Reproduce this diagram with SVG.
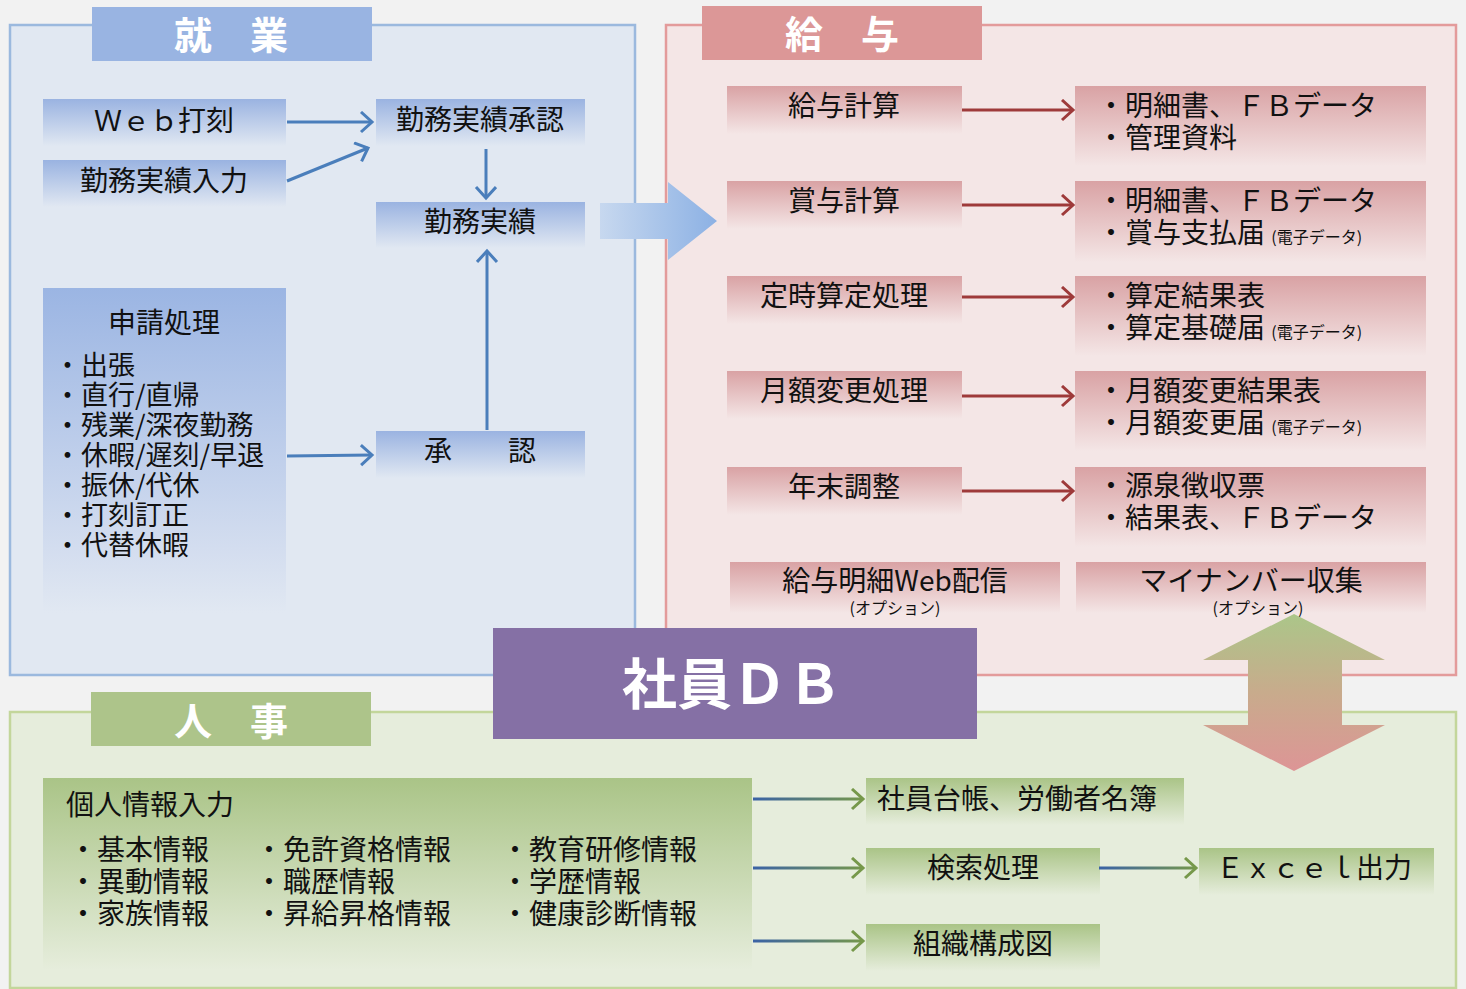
<svg xmlns="http://www.w3.org/2000/svg" width="1466" height="989" viewBox="0 0 1466 989">
<defs>
<style>
text{font-family:"Noto Sans CJK JP","Noto Sans",sans-serif;fill:#111}
.t{font-size:28px}
.l{font-size:27px}
.m{text-anchor:middle}
.tab{font-size:38px;font-weight:bold;fill:#fff;text-anchor:middle}
.s{font-size:16px}
.b{stroke:#4a7ebb;stroke-width:3;fill:none}
.r{stroke:#9e3a3a;stroke-width:3;fill:none}
</style>
<linearGradient id="gb" x1="0" y1="0" x2="0" y2="1"><stop offset="0" stop-color="#9ab3e1"/><stop offset="1" stop-color="#e1e8f2"/></linearGradient>
<linearGradient id="gb2" x1="0" y1="0" x2="0" y2="1"><stop offset="0" stop-color="#9bb5e3"/><stop offset="0.8" stop-color="#d3ddef"/><stop offset="1" stop-color="#e1e8f2"/></linearGradient>
<linearGradient id="gr" x1="0" y1="0" x2="0" y2="1"><stop offset="0" stop-color="#d9a2a4"/><stop offset="1" stop-color="#f4e6e6"/></linearGradient>
<linearGradient id="gg" x1="0" y1="0" x2="0" y2="1"><stop offset="0" stop-color="#aac487"/><stop offset="1" stop-color="#e6eddc"/></linearGradient>
<linearGradient id="gbig" x1="0" y1="0" x2="1" y2="0"><stop offset="0" stop-color="#c7d8ef"/><stop offset="1" stop-color="#8cb1e4"/></linearGradient>
<linearGradient id="gdbl" x1="0" y1="0" x2="0" y2="1"><stop offset="0" stop-color="#abc689"/><stop offset="0.5" stop-color="#c8ab8c"/><stop offset="1" stop-color="#dd9596"/></linearGradient>
<linearGradient id="gl1" gradientUnits="userSpaceOnUse" x1="752" y1="0" x2="864" y2="0"><stop offset="0" stop-color="#3a62a6"/><stop offset="1" stop-color="#76984a"/></linearGradient>
<linearGradient id="gl2" gradientUnits="userSpaceOnUse" x1="1099" y1="0" x2="1197" y2="0"><stop offset="0" stop-color="#3a62a6"/><stop offset="1" stop-color="#76984a"/></linearGradient>
<marker id="ab" markerUnits="userSpaceOnUse" markerWidth="20" markerHeight="24" refX="14" refY="11" orient="auto" viewBox="0 0 20 24"><path d="M3,1 L14,11 L3,21" fill="none" stroke="#4a7ebb" stroke-width="3"/></marker>
<marker id="ar" markerUnits="userSpaceOnUse" markerWidth="20" markerHeight="24" refX="14" refY="11" orient="auto" viewBox="0 0 20 24"><path d="M3,1 L14,11 L3,21" fill="none" stroke="#9e3a3a" stroke-width="3"/></marker>
<marker id="ag" markerUnits="userSpaceOnUse" markerWidth="20" markerHeight="24" refX="14" refY="11" orient="auto" viewBox="0 0 20 24"><path d="M3,1 L14,11 L3,21" fill="none" stroke="#76984a" stroke-width="3"/></marker>
</defs>
<rect width="1466" height="989" fill="#f2f2f2"/>

<g id="panel-shugyo">
<rect x="10" y="25" width="625" height="650" fill="#e1e8f2" stroke="#9bb9de" stroke-width="2.5"/>
<rect x="92" y="7" width="280" height="54" fill="#99b4e2"/>
<text class="tab" x="231" y="49">就　業</text>
</g>
<g id="panel-kyuyo">
<rect x="666" y="25" width="790" height="650" fill="#f4e6e6" stroke="#e39b9b" stroke-width="2.5"/>
<rect x="702" y="6" width="280" height="54" fill="#dc9797"/>
<text class="tab" x="842" y="48">給　与</text>
</g>
<g id="panel-jinji">
<rect x="10" y="712" width="1446" height="276" fill="#e6eddc" stroke="#c3d69b" stroke-width="2.5"/>
<rect x="91" y="692" width="280" height="54" fill="#adc48a"/>
<text class="tab" x="231" y="735">人　事</text>
</g>

<g id="web">
<rect x="43" y="99" width="243" height="47" fill="url(#gb)"/>
<text class="t m" x="164" y="131">Ｗｅｂ打刻</text>
</g>
<g id="kinmu-input">
<rect x="43" y="160" width="243" height="47" fill="url(#gb)"/>
<text class="t m" x="164" y="191">勤務実績入力</text>
</g>
<g id="kinmu-shonin">
<rect x="376" y="99" width="209" height="47" fill="url(#gb)"/>
<text class="t m" x="480" y="130">勤務実績承認</text>
</g>
<g id="kinmu">
<rect x="376" y="202" width="209" height="46" fill="url(#gb)"/>
<text class="t m" x="480" y="232">勤務実績</text>
</g>
<g id="shinsei">
<rect x="43" y="288" width="243" height="325" fill="url(#gb2)"/>
<text class="t m" x="164" y="333">申請処理</text>
<text class="l" x="54" y="375">・出張</text>
<text class="l" x="54" y="405">・直行/直帰</text>
<text class="l" x="54" y="435">・残業/深夜勤務</text>
<text class="l" x="54" y="465">・休暇/遅刻/早退</text>
<text class="l" x="54" y="495">・振休/代休</text>
<text class="l" x="54" y="525">・打刻訂正</text>
<text class="l" x="54" y="555">・代替休暇</text>
</g>
<g id="shonin">
<rect x="376" y="431" width="209" height="47" fill="url(#gb)"/>
<text class="t m" x="480" y="461">承　　認</text>
</g>

<g id="big-arrow">
<polygon points="600,203 668,203 668,182 717,221 668,260 668,239 600,239" fill="url(#gbig)"/>
</g>

<g id="kyuyo-keisan"><rect x="727" y="86" width="235" height="48" fill="url(#gr)"/><text class="t m" x="844" y="116">給与計算</text></g>
<g id="shoyo-keisan"><rect x="727" y="181" width="235" height="48" fill="url(#gr)"/><text class="t m" x="844" y="211">賞与計算</text></g>
<g id="teiji"><rect x="727" y="276" width="235" height="48" fill="url(#gr)"/><text class="t m" x="844" y="306">定時算定処理</text></g>
<g id="getsugaku"><rect x="727" y="371" width="235" height="48" fill="url(#gr)"/><text class="t m" x="844" y="401">月額変更処理</text></g>
<g id="nenmatsu"><rect x="727" y="467" width="235" height="48" fill="url(#gr)"/><text class="t m" x="844" y="497">年末調整</text></g>

<g id="out1"><rect x="1075" y="86" width="351" height="80" fill="url(#gr)"/>
<text class="t" x="1097" y="116">・明細書、ＦＢデータ</text><text class="t" x="1097" y="148">・管理資料</text></g>
<g id="out2"><rect x="1075" y="181" width="351" height="81" fill="url(#gr)"/>
<text class="t" x="1097" y="211">・明細書、ＦＢデータ</text><text class="t" x="1097" y="243">・賞与支払届 <tspan class="s">(電子データ)</tspan></text></g>
<g id="out3"><rect x="1075" y="276" width="351" height="80" fill="url(#gr)"/>
<text class="t" x="1097" y="306">・算定結果表</text><text class="t" x="1097" y="338">・算定基礎届 <tspan class="s">(電子データ)</tspan></text></g>
<g id="out4"><rect x="1075" y="371" width="351" height="80" fill="url(#gr)"/>
<text class="t" x="1097" y="401">・月額変更結果表</text><text class="t" x="1097" y="433">・月額変更届 <tspan class="s">(電子データ)</tspan></text></g>
<g id="out5"><rect x="1075" y="467" width="351" height="80" fill="url(#gr)"/>
<text class="t" x="1097" y="496">・源泉徴収票</text><text class="t" x="1097" y="528">・結果表、ＦＢデータ</text></g>

<g id="web-meisai"><rect x="730" y="562" width="330" height="51" fill="url(#gr)"/>
<text class="t m" x="895" y="591">給与明細Web配信</text><text class="s m" x="895" y="614">(オプション)</text></g>
<g id="mynumber"><rect x="1076" y="562" width="350" height="51" fill="url(#gr)"/>
<text class="t m" x="1251" y="591">マイナンバー収集</text><text class="s m" x="1258" y="614">(オプション)</text></g>

<g id="kojin">
<rect x="43" y="778" width="709" height="192" fill="url(#gg)"/>
<text class="t" x="66" y="815">個人情報入力</text>
<text class="t" x="69" y="860">・基本情報</text><text class="t" x="69" y="892">・異動情報</text><text class="t" x="69" y="924">・家族情報</text>
<text class="t" x="255" y="860">・免許資格情報</text><text class="t" x="255" y="892">・職歴情報</text><text class="t" x="255" y="924">・昇給昇格情報</text>
<text class="t" x="501" y="860">・教育研修情報</text><text class="t" x="501" y="892">・学歴情報</text><text class="t" x="501" y="924">・健康診断情報</text>
</g>
<g id="daicho"><rect x="866" y="778" width="318" height="47" fill="url(#gg)"/><text class="t" x="877" y="809">社員台帳、労働者名簿</text></g>
<g id="kensaku"><rect x="866" y="848" width="234" height="47" fill="url(#gg)"/><text class="t m" x="983" y="878">検索処理</text></g>
<g id="excel"><rect x="1199" y="848" width="235" height="47" fill="url(#gg)"/><text class="t" x="1216" y="878">Ｅｘｃｅｌ出力</text></g>
<g id="soshiki"><rect x="866" y="924" width="234" height="47" fill="url(#gg)"/><text class="t m" x="983" y="954">組織構成図</text></g>

<g id="connectors">
<line class="b" x1="287" y1="122" x2="372" y2="122" marker-end="url(#ab)"/>
<line class="b" x1="287" y1="181" x2="368" y2="148" marker-end="url(#ab)"/>
<line class="b" x1="486" y1="149" x2="486" y2="198" marker-end="url(#ab)"/>
<line class="b" x1="487" y1="430" x2="487" y2="251" marker-end="url(#ab)"/>
<line class="b" x1="287" y1="456" x2="372" y2="455" marker-end="url(#ab)"/>
<line class="r" x1="962" y1="110" x2="1073" y2="110" marker-end="url(#ar)"/>
<line class="r" x1="962" y1="205" x2="1073" y2="205" marker-end="url(#ar)"/>
<line class="r" x1="962" y1="297" x2="1073" y2="297" marker-end="url(#ar)"/>
<line class="r" x1="962" y1="396" x2="1073" y2="396" marker-end="url(#ar)"/>
<line class="r" x1="962" y1="491" x2="1073" y2="491" marker-end="url(#ar)"/>
<line x1="753" y1="799" x2="863" y2="799" stroke="url(#gl1)" stroke-width="3" marker-end="url(#ag)"/>
<line x1="753" y1="868" x2="863" y2="868" stroke="url(#gl1)" stroke-width="3" marker-end="url(#ag)"/>
<line x1="753" y1="941" x2="863" y2="941" stroke="url(#gl1)" stroke-width="3" marker-end="url(#ag)"/>
<line x1="1099" y1="868" x2="1196" y2="868" stroke="url(#gl2)" stroke-width="3" marker-end="url(#ag)"/>
</g>

<g id="shain-db">
<rect x="493" y="628" width="484" height="111" fill="#8570a5"/>
<text x="732" y="704" style="font-size:55px;font-weight:bold;fill:#fff;text-anchor:middle">社員ＤＢ</text>
</g>
<g id="double-arrow">
<polygon points="1294,614 1385,660 1342,660 1342,725 1385,725 1294,771 1203,725 1248,725 1248,660 1203,660" fill="url(#gdbl)"/>
</g>
</svg>
